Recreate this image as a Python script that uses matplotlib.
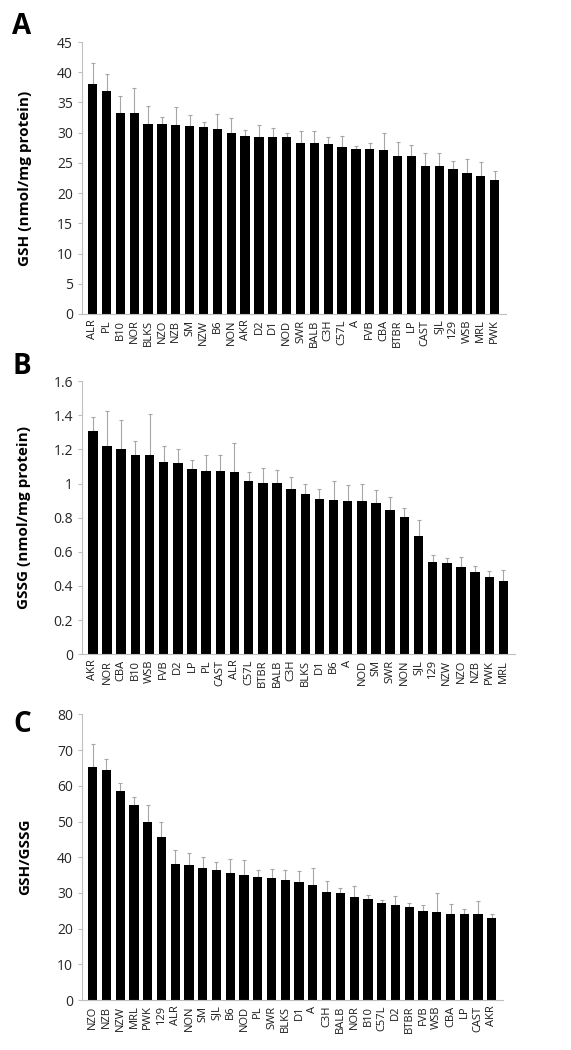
import numpy as np
import matplotlib
matplotlib.use('Agg')
import matplotlib.pyplot as plt

plt.rcParams['font.family'] = ['Open Sans', 'DejaVu Sans']

# Panel A: GSH
gsh_strains = ['ALR', 'PL', 'B10', 'NOR', 'BLKS', 'NZO', 'NZB', 'SM', 'NZW', 'B6',
               'NON', 'AKR', 'D2', 'D1', 'NOD', 'SWR', 'BALB', 'C3H', 'C57L', 'A',
               'FVB', 'CBA', 'BTBR', 'LP', 'CAST', 'SJL', '129', 'WSB', 'MRL', 'PWK']
gsh_mean = [38.1, 36.9, 33.3, 33.2, 31.5, 31.5, 31.2, 31.1, 31.0, 30.6,
            30.0, 29.4, 29.3, 29.3, 29.2, 28.3, 28.3, 28.2, 27.7, 27.3,
            27.3, 27.1, 26.2, 26.2, 24.5, 24.4, 24.0, 23.3, 22.8, 22.2]
gsh_top = [41.5, 39.7, 36.0, 37.4, 34.4, 32.6, 34.2, 32.9, 31.8, 33.1,
           32.4, 30.5, 31.2, 30.7, 29.9, 30.2, 30.2, 29.3, 29.4, 27.8,
           28.3, 29.9, 28.5, 28.0, 26.7, 26.7, 25.3, 25.7, 25.2, 23.6]

# Panel B: GSSG
gssg_strains = ['AKR', 'NOR', 'CBA', 'B10', 'WSB', 'FVB', 'D2', 'LP', 'PL', 'CAST',
                'ALR', 'C57L', 'BTBR', 'BALB', 'C3H', 'BLKS', 'D1', 'B6', 'A', 'NOD',
                'SM', 'SWR', 'NON', 'SJL', '129', 'NZW', 'NZO', 'NZB', 'PWK', 'MRL']
gssg_mean = [1.305, 1.22, 1.205, 1.17, 1.17, 1.125, 1.12, 1.085, 1.075, 1.075,
             1.065, 1.015, 1.005, 1.005, 0.97, 0.94, 0.91, 0.905, 0.90, 0.895,
             0.885, 0.845, 0.805, 0.69, 0.54, 0.535, 0.51, 0.48, 0.455, 0.43]
gssg_top = [1.39, 1.425, 1.375, 1.25, 1.405, 1.22, 1.20, 1.14, 1.17, 1.17,
            1.24, 1.065, 1.09, 1.08, 1.04, 1.0, 0.97, 1.015, 0.99, 1.0,
            0.96, 0.92, 0.855, 0.785, 0.58, 0.565, 0.57, 0.515, 0.49, 0.495]

# Panel C: GSH/GSSG
ratio_strains = ['NZO', 'NZB', 'NZW', 'MRL', 'PWK', '129', 'ALR', 'NON', 'SM', 'SJL',
                 'B6', 'NOD', 'PL', 'SWR', 'BLKS', 'D1', 'A', 'C3H', 'BALB', 'NOR',
                 'B10', 'C57L', 'D2', 'BTBR', 'FVB', 'WSB', 'CBA', 'LP', 'CAST', 'AKR']
ratio_mean = [65.2, 64.5, 58.5, 54.7, 49.9, 45.8, 38.2, 37.8, 37.0, 36.5,
              35.7, 35.0, 34.5, 34.3, 33.7, 33.0, 32.1, 30.2, 30.0, 28.9,
              28.3, 27.1, 26.7, 26.0, 24.8, 24.7, 24.2, 24.2, 24.1, 22.9]
ratio_top = [71.8, 67.4, 60.7, 57.0, 54.7, 50.0, 41.9, 41.1, 40.1, 38.8,
             39.4, 39.2, 36.5, 36.8, 36.5, 36.2, 37.0, 33.4, 31.4, 31.8,
             29.3, 27.9, 29.1, 27.3, 26.5, 29.9, 27.0, 25.4, 27.6, 24.2]

panels = [
    ('A', gsh_strains, gsh_mean, gsh_top, 'GSH (nmol/mg protein)', 45, 5, '%d',
     [0.1436, 0.701, 0.742, 0.259], 27),
    ('B', gssg_strains, gssg_mean, gssg_top, 'GSSG (nmol/mg protein)', 1.6, 0.2, None,
     [0.1436, 0.377, 0.758, 0.260], 366),
    ('C', ratio_strains, ratio_mean, ratio_top, 'GSH/GSSG', 80, 10, '%d',
     [0.1436, 0.0476, 0.737, 0.272], 724),
]

axis_grey = '#bfbfbf'

fig = plt.figure(figsize=(5.71, 10.5), dpi=100)
for letter, names, mean, top, ylab, ymax, ystep, fmt, rect, letter_y in panels:
    ax = fig.add_axes(rect)
    x = np.arange(len(names))
    mean = np.array(mean)
    err = np.array(top) - mean
    ax.bar(x, mean, width=0.67, color='black', zorder=2)
    ax.errorbar(x, mean, yerr=[np.zeros_like(err), err], fmt='none',
                ecolor='#a6a6a6', elinewidth=0.8, capsize=1.5, capthick=0.8, zorder=1)
    ax.set_xlim(-0.77, 29.8)
    ax.set_ylim(0, ymax)
    ticks = np.arange(0, ymax + ystep / 2, ystep)
    ax.set_yticks(ticks)
    if fmt:
        ax.set_yticklabels([fmt % t for t in ticks])
    else:
        ax.set_yticklabels(['0'] + ['%g' % round(t, 1) for t in ticks[1:]])
    ax.set_xticks(x)
    ax.set_xticklabels(names, rotation=90, fontsize=8, color='#1a1a1a')
    ax.tick_params(axis='x', length=0, pad=4)
    ax.tick_params(axis='y', labelsize=10, length=3, width=0.8, colors='#262626')
    ax.tick_params(axis='y', color=axis_grey)
    for s in ['top', 'right']:
        ax.spines[s].set_visible(False)
    for s in ['left', 'bottom']:
        ax.spines[s].set_color(axis_grey)
        ax.spines[s].set_linewidth(0.8)
    ax.set_ylabel(ylab, fontsize=11, fontweight='bold')
    ax.yaxis.set_label_coords(-0.118, 0.5)
    fig.text(22 / 571, 1 - letter_y / 1050, letter, fontsize=20, fontweight='bold',
             ha='center', va='center')

fig.savefig('out.png', dpi=100)
